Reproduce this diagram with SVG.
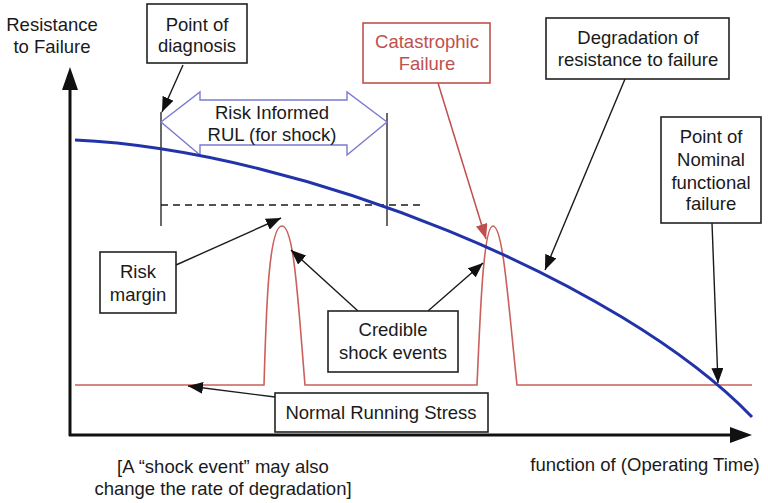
<svg xmlns="http://www.w3.org/2000/svg" width="768" height="503" viewBox="0 0 768 503">
  <style>
    text { font-family: "Liberation Sans", Arial, sans-serif; font-size: 18.5px; fill: #1a1a1a; text-anchor: middle; }
    .red { fill: #c0504d; }
    .box { fill: #ffffff; stroke: #222222; stroke-width: 1.6; }
    .rbox { fill: #ffffff; stroke: #c0504d; stroke-width: 1.6; }
    .lead { fill: none; stroke: #1a1a1a; stroke-width: 1.4; marker-end: url(#ah); }
    .thin { fill: none; stroke: #1a1a1a; stroke-width: 1.3; }
  </style>
  <defs>
    <marker id="ah" markerUnits="userSpaceOnUse" markerWidth="16" markerHeight="12" refX="15" refY="6" orient="auto">
      <path d="M0,0 L15,6 L0,12 Z" fill="#111111"/>
    </marker>
    <marker id="ahr" markerUnits="userSpaceOnUse" markerWidth="16" markerHeight="12" refX="15" refY="6" orient="auto">
      <path d="M0,0 L15,6 L0,12 Z" fill="#c0504d"/>
    </marker>
  </defs>

  <rect width="768" height="503" fill="#ffffff"/>

  <!-- axes -->
  <g id="axes">
    <path d="M70,436 L70,88" stroke="#111" stroke-width="3" fill="none"/>
    <path d="M62,90 L70,67 L78,90 Z" fill="#111"/>
    <path d="M69,435 L732,435" stroke="#111" stroke-width="3" fill="none"/>
    <path d="M730,427 L752,435 L730,443 Z" fill="#111"/>
    <text x="52" y="31">Resistance</text>
    <text x="52" y="53">to Failure</text>
    <text x="645" y="471">function of (Operating Time)</text>
  </g>

  <!-- RUL bracket -->
  <g id="rul">
    <path class="thin" d="M161,112 L161,226 M387,113 L387,226"/>
    <path d="M161,205 L425,205" stroke="#1a1a1a" stroke-width="1.4" stroke-dasharray="7,5" fill="none"/>
    <polygon points="161,122 200,92 200,100 347,100 347,92 387,122 347,155 347,145 200,145 200,155" fill="none" stroke="#7b7bd0" stroke-width="1.4"/>
    <text x="272" y="119">Risk Informed</text>
    <text x="272" y="141">RUL (for shock)</text>
  </g>

  <!-- stress curve -->
  <g id="stress">
    <path d="M75,385 L264,385 C266,320 268,226 282,226 C294,226 298,300 305,385 L477,385 C480,320 483,226 493,226 C503,226 508,300 517,385 L752,385" fill="none" stroke="#c9605c" stroke-width="1.6"/>
  </g>

  <!-- resistance curve -->
  <g id="resistance">
    <path d="M75,140 C300,150 620,280 752,417" fill="none" stroke="#2233aa" stroke-width="3"/>
  </g>

  <!-- connectors -->
  <g id="connectors">
    <path class="lead" d="M183,65 L162,112"/>
    <path class="lead" d="M176,265 L281,218"/>
    <path class="lead" d="M358,311 L291,250"/>
    <path class="lead" d="M428,311 L483,263"/>
    <path class="lead" d="M275,397 L188,386"/>
    <path class="lead" d="M625,79 L545,270"/>
    <path class="lead" d="M712,223 L718,383"/>
    <path d="M438,83 L486,239" fill="none" stroke="#c0504d" stroke-width="1.5" marker-end="url(#ahr)"/>
  </g>

  <g id="point-of-diagnosis">
    <rect class="box" x="147" y="4" width="100" height="59"/>
    <text x="197" y="31">Point of</text>
    <text x="197" y="52">diagnosis</text>
  </g>

  <g id="catastrophic-failure">
    <rect class="rbox" x="363" y="23" width="127" height="60"/>
    <text class="red" x="427" y="48">Catastrophic</text>
    <text class="red" x="427" y="70">Failure</text>
  </g>

  <g id="degradation">
    <rect class="box" x="546" y="18" width="183" height="61"/>
    <text x="638" y="44">Degradation of</text>
    <text x="638" y="66">resistance to failure</text>
  </g>

  <g id="nominal-failure">
    <rect class="box" x="661" y="117" width="100" height="106"/>
    <text x="711" y="143">Point of</text>
    <text x="711" y="166">Nominal</text>
    <text x="711" y="189">functional</text>
    <text x="711" y="210">failure</text>
  </g>

  <g id="risk-margin">
    <rect class="box" x="100" y="252" width="76" height="61"/>
    <text x="138" y="278">Risk</text>
    <text x="138" y="301">margin</text>
  </g>

  <g id="credible-shock">
    <rect class="box" x="328" y="311" width="130" height="61"/>
    <text x="393" y="336">Credible</text>
    <text x="393" y="359">shock events</text>
  </g>

  <g id="normal-running">
    <rect class="box" x="275" y="393" width="213" height="39"/>
    <text x="381" y="419">Normal Running Stress</text>
  </g>

  <g id="note">
    <text x="223" y="473">[A “shock event” may also</text>
    <text x="223" y="495">change the rate of degradation]</text>
  </g>
</svg>
